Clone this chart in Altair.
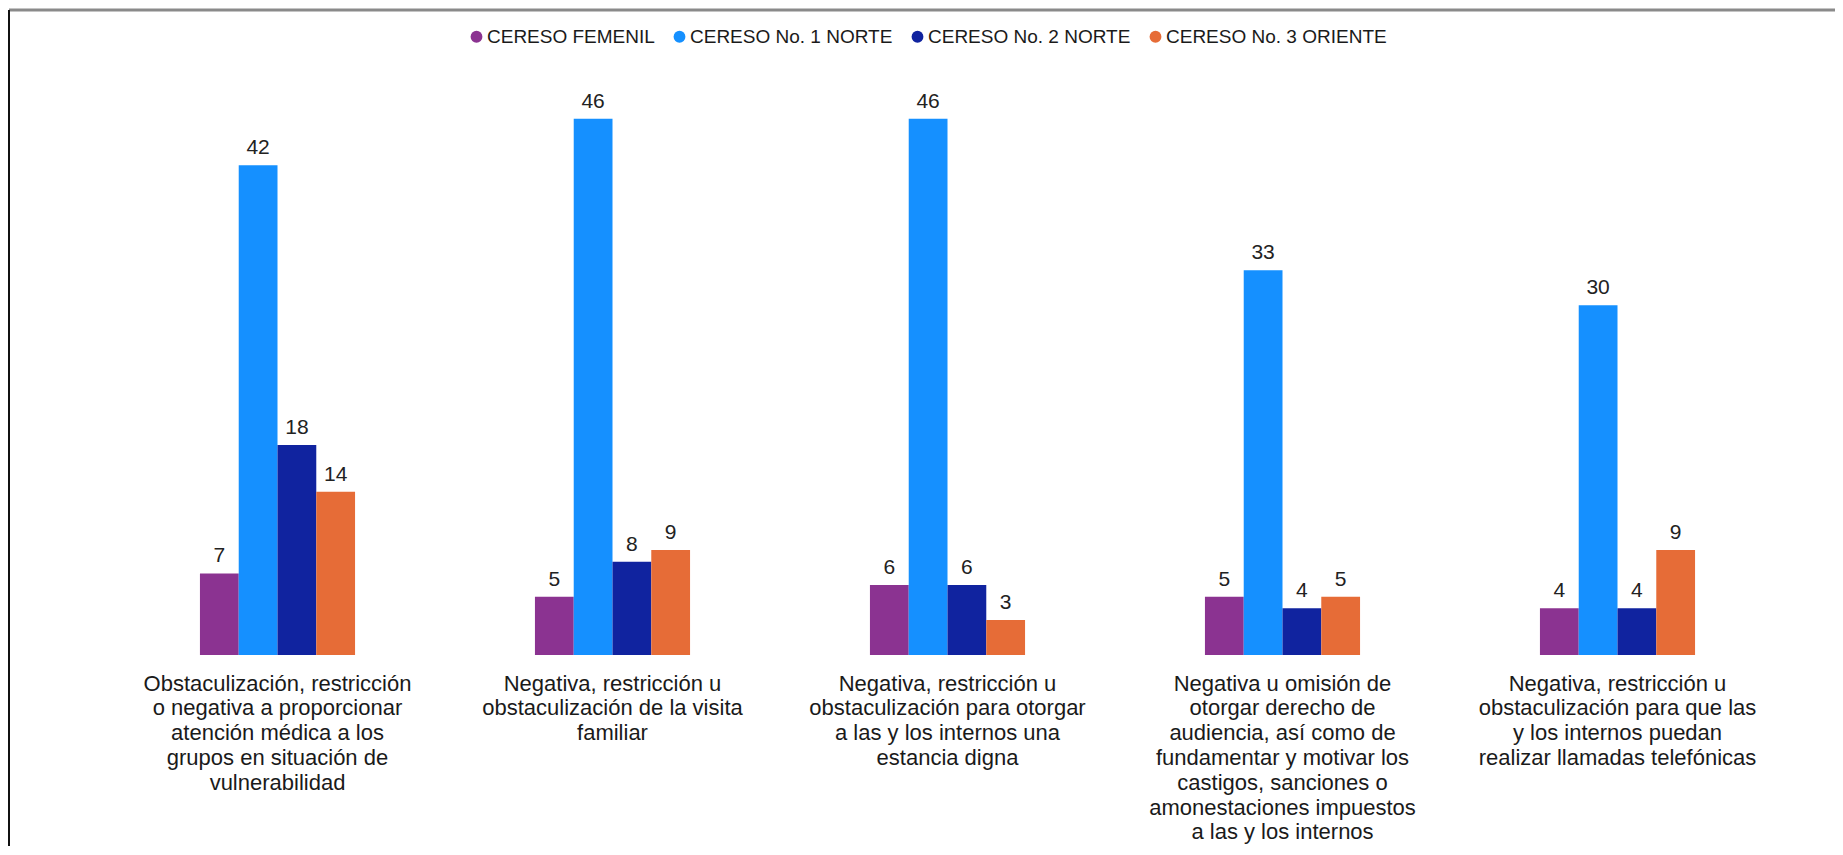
import altair as alt
import pandas as pd

category_lines = [
    ["Obstaculización, restricción", "o negativa a proporcionar", "atención médica a los", "grupos en situación de", "vulnerabilidad"],
    ["Negativa, restricción u", "obstaculización de la visita", "familiar"],
    ["Negativa, restricción u", "obstaculización para otorgar", "a las y los internos una", "estancia digna"],
    ["Negativa u omisión de", "otorgar derecho de", "audiencia, así como de", "fundamentar y motivar los", "castigos, sanciones o", "amonestaciones impuestos", "a las y los internos"],
    ["Negativa, restricción u", "obstaculización para que las", "y los internos puedan", "realizar llamadas telefónicas"],
]
categories = ["|".join(lines) for lines in category_lines]

series = ["CERESO FEMENIL", "CERESO No. 1 NORTE", "CERESO No. 2 NORTE", "CERESO No. 3 ORIENTE"]
femenil = [7, 5, 6, 5, 4]
norte1 = [42, 46, 46, 33, 30]
norte2 = [18, 8, 6, 4, 4]
oriente3 = [14, 9, 3, 5, 9]
colors = ["#8B3391", "#1590FF", "#10239F", "#E66C37"]

rows = []
for s, vals in zip(series, [femenil, norte1, norte2, oriente3]):
    for c, v in zip(categories, vals):
        rows.append({"categoria": c, "centro": s, "valor": v})
df = pd.DataFrame(rows)

W, H = 1675, 583
PAD = {"left": 102, "top": 64, "right": 50, "bottom": 191}

x_enc = alt.X(
    "categoria:N",
    sort=categories,
    scale=alt.Scale(paddingInner=0.537, paddingOuter=0.2685),
    axis=alt.Axis(
        title=None,
        labelAngle=0,
        labelExpr="split(datum.label, '|')",
        labelFontSize=22,
        labelLineHeight=24.8,
        labelColor="#1a1a1a",
        labelPadding=18,
        labelLimit=0,
        labelBaseline="top",
        domain=False,
        ticks=False,
    ),
)
xoff = alt.XOffset("centro:N", sort=series, scale=alt.Scale(paddingInner=0, paddingOuter=0))
y_enc = alt.Y("valor:Q", scale=alt.Scale(domain=[0, 50]), axis=None)

base = alt.Chart(df)

bars = base.mark_bar().encode(
    x=x_enc,
    xOffset=xoff,
    y=y_enc,
    color=alt.Color(
        "centro:N",
        sort=series,
        scale=alt.Scale(domain=series, range=colors),
        legend=alt.Legend(
            title=None,
            orient="none",
            direction="horizontal",
            legendX=357,
            legendY=-45,
            symbolType="circle",
            symbolSize=140,
            symbolStrokeWidth=0,
            labelFontSize=19,
            labelColor="#1a1a1a",
            labelOffset=1,
            columnPadding=15,
            labelLimit=0,
        ),
    ),
)

labels = base.mark_text(fontSize=21, color="#222222", baseline="alphabetic", dy=-11).encode(
    x=alt.X("categoria:N", sort=categories),
    xOffset=xoff,
    y=y_enc,
    text="valor:Q",
)

frame = alt.Data(values=[{"k": 1}])
top_line = alt.Chart(frame).mark_rule(color="#8a8a8a", strokeWidth=3).encode(
    x=alt.value(-101), x2=alt.value(W + PAD["right"]), y=alt.value(-62)
)
left_line = alt.Chart(frame).mark_rule(color="#111111", strokeWidth=2).encode(
    x=alt.value(-101), y=alt.value(-62), y2=alt.value(H + PAD["bottom"])
)

chart = (
    alt.layer(bars, labels, top_line, left_line)
    .properties(width=W, height=H, padding=PAD, autosize=alt.AutoSizeParams(type="none"))
    .configure(font="Liberation Sans")
    .configure_view(strokeWidth=0)
)

chart.save("out.html", embed_options={"renderer": "svg", "actions": False})
